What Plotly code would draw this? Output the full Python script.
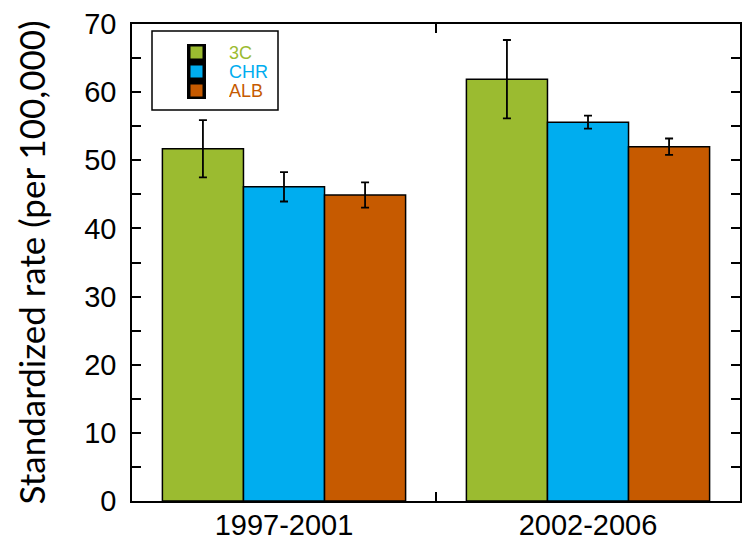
import plotly.graph_objects as go

periods = ["1997-2001", "2002-2006"]
series = ["3C", "CHR", "ALB"]
values = {
    "3C": [51.7, 61.9],
    "CHR": [46.1, 55.6],
    "ALB": [44.9, 52.0],
}
errors = {
    "3C": [4.2, 5.75],
    "CHR": [2.15, 0.95],
    "ALB": [1.85, 1.2],
}
colors = {"3C": "#9BBB30", "CHR": "#00ADEF", "ALB": "#C65A00"}

# page body has an 8px margin: work in screenshot pixels, offset by 8
OFF = 8
W, H = 751 - OFF, 546 - OFF
L, R, T, B = 132, 740, 24, 501  # screenshot pixel positions of plot area

fig = go.Figure()
for s in series:
    fig.add_trace(go.Bar(
        x=periods, y=values[s], name=s,
        marker=dict(color=colors[s], line=dict(color="black", width=1.5)),
        error_y=dict(type="data", array=errors[s], color="black",
                     thickness=1.8, width=4),
        showlegend=False,
    ))

def px(x):
    return (x - L) / (R - L)

def py(y):
    return (B - y) / (B - T)

shapes = [
    dict(type="rect", xref="paper", yref="paper",
         x0=px(152), x1=px(278), y0=py(110), y1=py(31),
         line=dict(color="black", width=1.5), fillcolor="white", layer="above"),
    dict(type="rect", xref="paper", yref="paper",
         x0=px(187), x1=px(206), y0=py(99), y1=py(44),
         line=dict(width=0), fillcolor="black", layer="above"),
]
annotations = []
ys = [52.5, 71.5, 90.5]
for s, yc in zip(series, ys):
    shapes.append(dict(type="rect", xref="paper", yref="paper",
                       x0=px(190.5), x1=px(202.5), y0=py(yc + 6), y1=py(yc - 6),
                       line=dict(width=0), fillcolor=colors[s], layer="above"))
    annotations.append(dict(xref="paper", yref="paper", x=px(228), y=py(yc),
                            xanchor="left", yanchor="middle", showarrow=False,
                            height=17, borderpad=0,
                            text=s, font=dict(family="Liberation Sans", size=18,
                                              color=colors[s])))

fig.update_layout(
    width=W, height=H,
    margin=dict(l=L - OFF, r=W - (R - OFF), t=T - OFF, b=H - (B - OFF), pad=0),
    paper_bgcolor="white", plot_bgcolor="white",
    barmode="group", bargap=0.2, bargroupgap=0,
    shapes=shapes, annotations=annotations,
    font=dict(family="Liberation Sans", size=29, color="black"),
)
fig.update_xaxes(
    range=[-0.5, 1.5], showline=True, linecolor="black", linewidth=1.5,
    mirror="allticks", ticks="inside", ticklen=9, tickwidth=1.5,
    tickcolor="black", tickson="boundaries", showgrid=False,
    automargin=False, ticklabelstandoff=-3,
    tickfont=dict(family="Liberation Sans", size=29),
)
fig.update_yaxes(
    range=[0, 70], dtick=10, showline=True, linecolor="black", linewidth=1.5,
    mirror="allticks", ticks="inside", ticklen=9, tickwidth=1.5,
    tickcolor="black", showgrid=False, zeroline=False,
    minor=dict(dtick=5, ticks="inside", ticklen=9, tickwidth=1.5,
               tickcolor="black", showgrid=False),
    automargin=False, ticklabelstandoff=8,
    tickfont=dict(family="Liberation Sans", size=29),
    title=dict(text="Standardized rate (per 100,000)",
               font=dict(family="Lato", size=35), standoff=28),
)
fig.write_html("out.html")
